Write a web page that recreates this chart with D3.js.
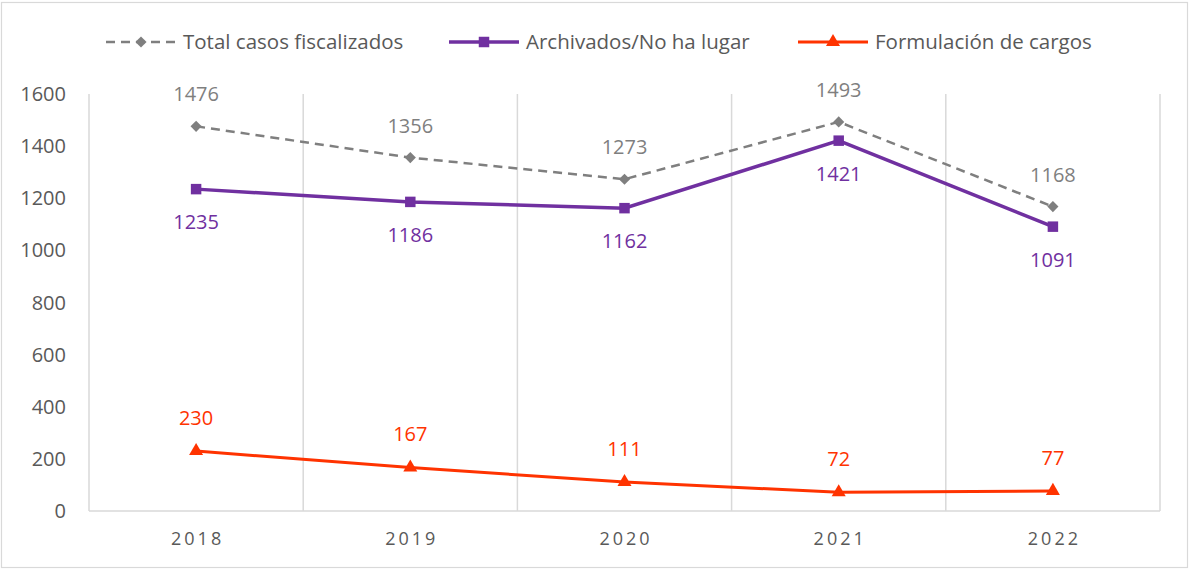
<!DOCTYPE html>
<meta charset="utf-8">
<style>
    body { margin: 0; background: #fff; }
    svg text { font-family: "Open Sans", sans-serif; }
</style>
<body>
<script src="https://cdn.jsdelivr.net/npm/d3@7"></script>
<script>

var years = ["2018", "2019", "2020", "2021", "2022"];
var totalCasos = [1476, 1356, 1273, 1493, 1168];
var archivados = [1235, 1186, 1162, 1421, 1091];
var formulacion = [230, 167, 111, 72, 77];
var yTicks = [0, 200, 400, 600, 800, 1000, 1200, 1400, 1600];

var width = 1189, height = 570;
var margin = {top: 94, right: 29, bottom: 59, left: 89};

var svg = d3.select("body").append("svg")
    .attr("width", width)
    .attr("height", height);

// outer chart border
svg.append("rect")
    .attr("x", 1.5).attr("y", 2.5)
    .attr("width", 1186).attr("height", 565)
    .style("fill", "#fff")
    .style("stroke", "#d9d9d9")
    .style("stroke-width", 1.2);

var x = d3.scaleBand()
    .domain(years)
    .range([margin.left, width - margin.right])
    .paddingInner(0).paddingOuter(0);

var y = d3.scaleLinear()
    .domain([0, 1600])
    .range([height - margin.bottom, margin.top]);

var cx = function(i) { return x(years[i]) + x.bandwidth() / 2; };

// vertical gridlines on category edges
var edges = years.map(function(d) { return x(d); }).concat([x.range()[1]]);
svg.selectAll("line.vgrid")
    .data(edges)
  .enter().append("line")
    .attr("class", "vgrid")
    .attr("x1", function(d) { return d; })
    .attr("x2", function(d) { return d; })
    .attr("y1", y(1600))
    .attr("y2", y(0))
    .style("stroke", "#d9d9d9")
    .style("stroke-width", 1.5);

// bottom axis line
svg.append("line")
    .attr("x1", x.range()[0]).attr("x2", x.range()[1])
    .attr("y1", y(0)).attr("y2", y(0))
    .style("stroke", "#d9d9d9")
    .style("stroke-width", 1.5);

// y tick labels
svg.selectAll("text.ytick")
    .data(yTicks)
  .enter().append("text")
    .attr("class", "ytick")
    .attr("x", 66)
    .attr("y", function(d) { return y(d); })
    .attr("dy", "0.35em")
    .attr("text-anchor", "end")
    .style("font-size", "20px")
    .style("fill", "#595959")
    .text(function(d) { return d; });

// x tick labels
svg.selectAll("text.xtick")
    .data(years)
  .enter().append("text")
    .attr("class", "xtick")
    .attr("x", function(d, i) { return cx(i) + 1.5; })
    .attr("y", 539)
    .attr("dy", "0.35em")
    .attr("text-anchor", "middle")
    .style("font-size", "18px")
    .style("letter-spacing", "3px")
    .style("fill", "#595959")
    .text(function(d) { return d; });

var series = [
    {name: "Total casos fiscalizados", values: totalCasos, color: "#7f7f7f", width: 2.5, dash: "9,6", symbol: d3.symbolSquare, size: 62, rotate: 45, labelOffset: -32},
    {name: "Archivados/No ha lugar", values: archivados, color: "#7030a0", width: 3.5, dash: null, symbol: d3.symbolSquare, size: 110, rotate: 0, labelOffset: 33},
    {name: "Formulación de cargos", values: formulacion, color: "#ff3300", width: 3, dash: null, symbol: d3.symbolTriangle, size: 85, rotate: 0, labelOffset: -33}
];

var line = d3.line()
    .x(function(d, i) { return cx(i); })
    .y(function(d) { return y(d); });

series.forEach(function(s) {
    svg.append("path")
        .datum(s.values)
        .attr("d", line)
        .style("fill", "none")
        .style("stroke", s.color)
        .style("stroke-width", s.width)
        .style("stroke-dasharray", s.dash);

    svg.selectAll(null)
        .data(s.values)
      .enter().append("path")
        .attr("d", d3.symbol().type(s.symbol).size(s.size))
        .attr("transform", function(d, i) {
            return "translate(" + cx(i) + "," + y(d) + ") rotate(" + s.rotate + ")";
        })
        .style("fill", s.color);

    svg.selectAll(null)
        .data(s.values)
      .enter().append("text")
        .attr("x", function(d, i) { return cx(i); })
        .attr("y", function(d) { return y(d) + s.labelOffset; })
        .attr("dy", "0.35em")
        .attr("text-anchor", "middle")
        .style("font-size", "20px")
        .style("fill", s.color)
        .text(function(d) { return d; });
});

// legend
var legendX = [106, 449, 798];
var legend = svg.selectAll("g.legend")
    .data(series)
  .enter().append("g")
    .attr("class", "legend")
    .attr("transform", function(d, i) { return "translate(" + legendX[i] + ",42)"; });

legend.append("line")
    .attr("x1", 0).attr("x2", 70)
    .style("stroke", function(d) { return d.color; })
    .style("stroke-width", function(d) { return d.width; })
    .style("stroke-dasharray", function(d) { return d.dash ? "9,6" : null; });

legend.append("path")
    .attr("d", function(d) { return d3.symbol().type(d.symbol).size(d.size)(); })
    .attr("transform", function(d) { return "translate(35,0) rotate(" + d.rotate + ")"; })
    .style("fill", function(d) { return d.color; });

legend.append("text")
    .attr("x", 77)
    .attr("dy", "0.35em")
    .style("font-size", "20.5px")
    .style("fill", "#595959")
    .text(function(d) { return d.name; });

</script>
</body>
